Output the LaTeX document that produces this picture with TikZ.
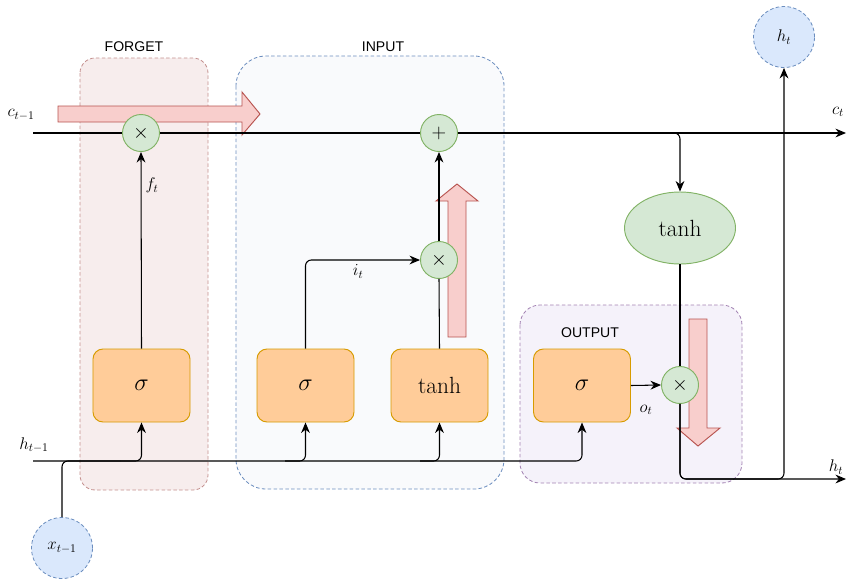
\documentclass[tikz,border=0pt]{standalone}
\usepackage{fontspec}
\usepackage{amsmath}
\newfontfamily\boxlabelfont{Liberation Sans}
\usetikzlibrary{positioning,shapes.geometric,arrows.meta}

\definecolor{forgetfill}{HTML}{F7EDED}
\definecolor{forgetdraw}{HTML}{C4908E}
\definecolor{inputfill}{HTML}{F9FAFC}
\definecolor{inputdraw}{HTML}{6C8EBF}
\definecolor{outputfill}{HTML}{F5F2FA}
\definecolor{outputdraw}{HTML}{A383B3}
\definecolor{gatefill}{HTML}{FFCC99}
\definecolor{gatedraw}{HTML}{D79B00}
\definecolor{opfill}{HTML}{D5E8D4}
\definecolor{opdraw}{HTML}{82B366}
\definecolor{flowfill}{HTML}{F8CECC}
\definecolor{flowdraw}{HTML}{B85450}
\definecolor{iofill}{HTML}{DAE8FC}
\definecolor{iodraw}{HTML}{6C8EBF}

\begin{document}
\begin{tikzpicture}[%
		x=0.03cm,
		y=-0.03cm,
		>={Stealth[length=9pt,width=7.5pt]},
		line width=0.9pt,
		gatebox/.style={%
			rectangle,
			rounded corners=0.3cm,
			minimum width=2.91cm,
			minimum height=2.19cm,
			line width=0.8pt,
			draw=gatedraw,
			fill=gatefill,
			font=\fontsize{20}{24}\selectfont
		},
		opnode/.style={%
			circle,
			minimum size=1.11cm,
			inner sep=0pt,
			line width=0.8pt,
			draw=opdraw,
			fill=opfill,
			font=\fontsize{16}{18}\selectfont
		},
		tanhell/.style={%
			ellipse,
			minimum width=3.33cm,
			minimum height=2.16cm,
			inner sep=0pt,
			line width=0.8pt,
			draw=opdraw,
			fill=opfill,
			font=\fontsize{20}{24}\selectfont
		},
		iocirc/.style={%
			circle,
			minimum size=1.83cm,
			inner sep=0pt,
			line width=0.7pt,
			dash pattern=on 3pt off 2pt,
			draw=iodraw,
			fill=iofill,
			font=\fontsize{14}{16}\selectfont
		},
		regionbox/.style={line width=0.7pt, dash pattern=on 3pt off 2pt},
		regionlabel/.style={font=\boxlabelfont\fontsize{12}{14}\selectfont},
		flow/.style={line width=0.8pt, draw=flowdraw, fill=flowfill},
		lbl/.style={font=\fontsize{14}{16}\selectfont}
		]
		\useasboundingbox (0,0) rectangle (847,579);
		
		% gate regions
		\draw[regionbox, draw=forgetdraw, fill=forgetfill, rounded corners=0.45cm] (80,58) rectangle (208,490);
		\draw[regionbox, draw=inputdraw, fill=inputfill, rounded corners=0.9cm] (236,56) rectangle (504,489);
		\draw[regionbox, draw=outputdraw, fill=outputfill, rounded corners=0.6cm] (520,305) rectangle (742,483);
		\node[regionlabel] (forgetlbl) at (134,47)  {FORGET};
		\node[regionlabel] (inputlbl)  at (383,47)  {INPUT};
		\node[regionlabel] (outputlbl) at (590,333) {OUTPUT};
		
		% big flow arrows
		\draw[flow] (58,106) -- (242,106) -- (242,92) -- (260,114) -- (242,135) -- (242,122) -- (58,122) -- cycle;
		\draw[flow] (448,337) -- (448,201) -- (436,201) -- (457,184) -- (478,201) -- (466,201) -- (466,337) -- cycle;
		\draw[flow] (689,319) -- (707,319) -- (707,428) -- (720,428) -- (698,446) -- (677,428) -- (689,428) -- cycle;
		
		\node[gatebox] (sigf)  at (141.5,385.5) {$\sigma$};
		\node[gatebox] (sigi)  at (305.5,385.5) {$\sigma$};
		\node[gatebox] (tanhi) at (439.5,385.5) {tanh};
		\node[gatebox] (sigo)  at (582,385.5)   {$\sigma$};
		
		\node[opnode] (mulf) at (141,133) {$\times$};
		\node[opnode] (add)  at (439,133) {$+$};
		\node[opnode] (muli) at (439,260) {$\times$};
		\node[opnode] (mulo) at (680,385) {$\times$};
		\node[tanhell] (tanhc) at (680,228) {tanh};
		
		\node[iocirc] (ht)    at (784,37)  {$h_t$};
		\node[iocirc] (xprev) at (62,548)  {$x_{t-1}$};
		
		\coordinate (cin)   at (33,133);
		\coordinate (cout)  at (846,133);
		\coordinate (hin)   at (33,461);
		\coordinate (hout)  at (846,479);
		\coordinate (hf)    at (120,461);
		\coordinate (hi)    at (285,461);
		\coordinate (hg)    at (420,461);
		\coordinate (hturn) at (784,479);
		
		\node[lbl] (cprevlbl) at (21,115)  {$c_{t-1}$};
		\node[lbl] (ctlbl)    at (838,112) {$c_t$};
		\node[lbl] (hprevlbl) at (34,445)  {$h_{t-1}$};
		\node[lbl] (htlbl)    at (836,467) {$h_t$};
		
		% cell state
		\draw[->] (cin) -- (mulf) -- (add) -- (cout);
		\draw[->, rounded corners=5] (add.east) -| (tanhc.north);
		
		% hidden state and input
		\draw[->, rounded corners=5] (hin) -| (sigo.south);
		\draw[rounded corners=5] (xprev.north) |- (hf);
		\draw[->, rounded corners=5] (hf) -| (sigf.south);
		\draw[->, rounded corners=5] (hi) -| (sigi.south);
		\draw[->, rounded corners=5] (hg) -| (tanhi.south);
		
		\draw[->] (sigf.north) -- (mulf.south) node[lbl, pos=0.83, right] {$f_t$};
		\draw[->, rounded corners=5] (sigi.north) |- (muli.west) node[lbl, pos=0.73, below] {$i_t$};
		\draw (tanhi.north) -- (muli.south);
		\draw[->] (muli.north) -- (add.south);
		\draw (tanhc.south) -- (mulo.north);
		\draw[->] (sigo.east) -- (mulo.west) node[lbl, midway, below=13pt] {$o_t$};
		\draw[->, rounded corners=5] (mulo.south) |- (hout);
		\draw[->, rounded corners=5] (mulo.south) |- (hturn) -- (ht.south);
\end{tikzpicture}
\end{document}
